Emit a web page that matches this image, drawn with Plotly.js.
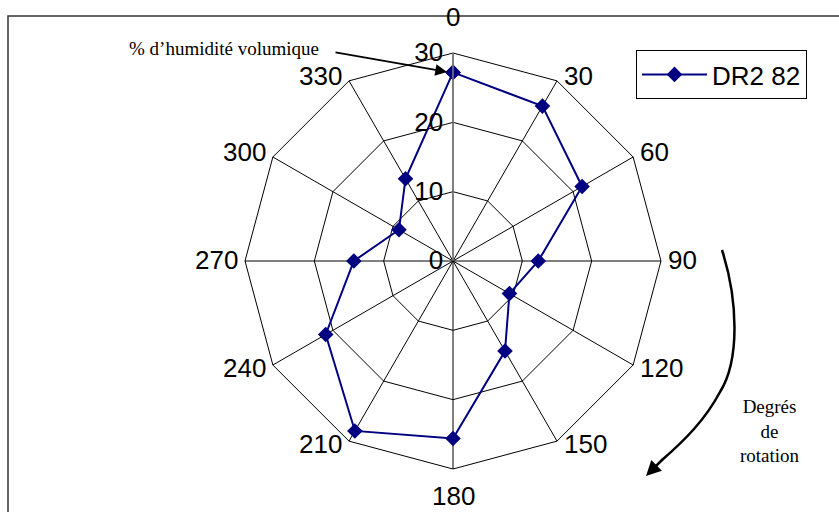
<!DOCTYPE html>
<html>
<head>
<meta charset="utf-8">
<script src="https://cdn.plot.ly/plotly-3.0.1.min.js"></script>
<style>html,body{margin:0;padding:0;background:#fff;}#chart{width:839px;height:512px;}</style>
</head>
<body>
<div id="chart"></div>
<script>
const angles = ['0','30','60','90','120','150','180','210','240','270','300','330'];
const values = [27.2, 25.8, 21.5, 12.3, 9.4, 15.0, 25.6, 28.3, 21.2, 14.3, 9.0, 13.7];
const seriesName = 'DR2 82';
const radialTicks = [0, 10, 20, 30];

const W = 839, H = 512;
const px = x => x / W;
const py = y => 1 - y / H;

// polar area geometry (pixels)
const CX = 453, CY = 261, R = 208;

const trace = {
  type: 'scatterpolar',
  mode: 'lines+markers',
  name: seriesName,
  theta: angles.concat([angles[0]]),
  r: values.concat([values[0]]),
  line: {color: '#000080', width: 2},
  marker: {symbol: 'diamond', size: 12, color: '#000080'},
  cliponaxis: false
};

// Excel-style angular category labels placed next to the outer polygon vertices
const angleLabels = angles.map(a => {
  const t = Number(a) * Math.PI / 180;
  const s = Math.round(Math.sin(t) * 1000) / 1000, c = Math.round(Math.cos(t) * 1000) / 1000;
  const vx = CX + R * s, vy = CY - R * c;
  const ann = {xref: 'paper', yref: 'paper', text: a, showarrow: false,
               font: {size: 26, family: 'Liberation Sans, Arial, sans-serif', color: '#000'}};
  if (s === 0) {
    ann.x = px(vx); ann.xanchor = 'center';
    if (c > 0) { ann.y = py(vy - 19); ann.yanchor = 'bottom'; }
    else { ann.y = py(vy + 10); ann.yanchor = 'top'; }
  } else {
    ann.x = px(vx + 5 * Math.sign(s)); ann.xanchor = s > 0 ? 'left' : 'right';
    ann.y = py(vy - 4 * Math.sign(c) - 1); ann.yanchor = 'middle';
  }
  return ann;
});

const curve = `M ${px(722)} ${py(250)} C ${px(738)} ${py(300)} ${px(740)} ${py(360)} ${px(720)} ${py(392)} C ${px(705)} ${py(420)} ${px(685)} ${py(440)} ${px(662)} ${py(460)}`;
const serif = 'Liberation Serif, Times New Roman, serif';

const layout = {
  width: W, height: H,
  margin: {l: 0, r: 0, t: 0, b: 0},
  paper_bgcolor: '#fff',
  font: {family: 'Liberation Sans, Arial, sans-serif', color: '#000', size: 26},
  showlegend: true,
  legend: {
    x: px(636), y: py(50), xanchor: 'left', yanchor: 'top',
    bordercolor: '#000', borderwidth: 1, bgcolor: '#fff',
    font: {size: 26, family: 'Liberation Sans, Arial, sans-serif'},
    itemwidth: 65
  },
  polar: {
    domain: {x: [px(CX - R), px(CX + R)], y: [py(CY + R), py(CY - R)]},
    gridshape: 'linear',
    bgcolor: 'rgba(0,0,0,0)',
    angularaxis: {
      type: 'category',
      categoryarray: angles,
      direction: 'clockwise',
      rotation: 90,
      showline: true, linecolor: '#000', linewidth: 1,
      gridcolor: '#000', gridwidth: 1,
      ticks: '', showticklabels: false
    },
    radialaxis: {
      range: [0, 30],
      tickvals: radialTicks,
      ticktext: radialTicks.map(String),
      angle: 90,
      side: 'counterclockwise',
      showline: true, linecolor: '#808080', linewidth: 1.5,
      gridcolor: '#000', gridwidth: 1,
      ticks: '', tickfont: {size: 26},
      tickangle: 90
    }
  },
  shapes: [
    {type: 'rect', xref: 'paper', yref: 'paper', x0: px(8), y0: -0.02, x1: 1.02, y1: py(16),
     line: {color: '#333', width: 1.5}},
    {type: 'path', xref: 'paper', yref: 'paper', path: curve, line: {color: '#000', width: 2.5}}
  ],
  annotations: angleLabels.concat([
    {xref: 'paper', yref: 'paper', x: px(224), y: py(48), xanchor: 'center', yanchor: 'middle',
     text: '% d\u2019humidité volumique',
     showarrow: false, font: {family: serif, size: 19, color: '#000'}},
    {xref: 'paper', yref: 'paper', axref: 'paper', ayref: 'paper',
     x: px(447), y: py(72), ax: px(334), ay: py(52), text: '',
     showarrow: true, arrowhead: 2, arrowsize: 1.3, arrowwidth: 1.8, arrowcolor: '#000'},
    {xref: 'paper', yref: 'paper', axref: 'paper', ayref: 'paper',
     x: px(646), y: py(476), ax: px(664), ay: py(458), text: '',
     showarrow: true, arrowhead: 2, arrowsize: 1.2, arrowwidth: 2.5, arrowcolor: '#000'},
    {xref: 'paper', yref: 'paper', x: px(770), y: py(431), xanchor: 'center', yanchor: 'middle',
     text: 'Degrés<br>de<br>rotation',
     showarrow: false, align: 'center',
     font: {family: serif, size: 19, color: '#000'}}
  ])
};

Plotly.newPlot('chart', [trace], layout, {displayModeBar: false, staticPlot: true});
</script>
</body>
</html>
